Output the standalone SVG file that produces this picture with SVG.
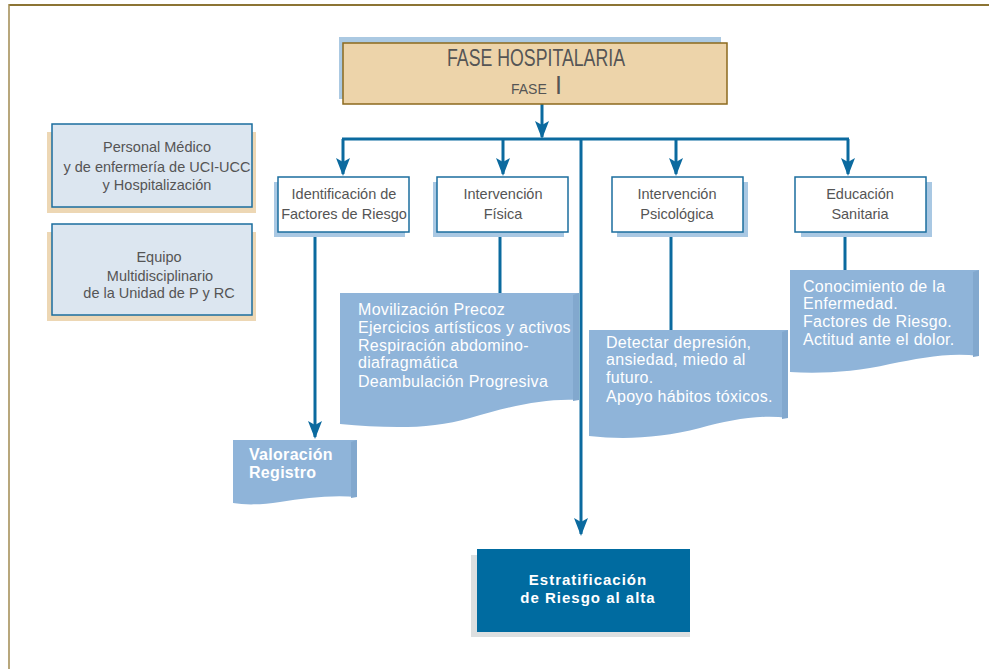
<svg xmlns="http://www.w3.org/2000/svg" width="989" height="669" viewBox="0 0 989 669">
<style>
.cond{font-family:"Liberation Sans",Arial,sans-serif;fill:#555;text-anchor:middle;font-size:14.5px}
.panel{fill:#8FB4D9}
.pedge{fill:#82A8CE}
.ptxt{font-family:"Liberation Sans",Arial,sans-serif;font-size:16px;fill:#fff;letter-spacing:0.3px}
.box{fill:#fff;stroke:#1B6E9E;stroke-width:1.5}
.sh{fill:#A9C8E3}
.lbox{fill:#DCE6F0;stroke:#1B6E9E;stroke-width:1.5}
.lsh{fill:#EDD7B4}
.conn{stroke:#0B6A9F;stroke-width:3;fill:none}
</style>
<defs>
<marker id="ah" markerUnits="userSpaceOnUse" markerWidth="18" markerHeight="14" refX="16" refY="7" orient="auto" viewBox="0 0 18 14">
<path d="M0,0 L18,7 L0,14 L4,7 Z" fill="#0B6A9F"/>
</marker>
</defs>
<rect width="989" height="669" fill="#fff"/>
<g id="frame">
<line x1="9" y1="5" x2="989" y2="5" stroke="#8C7434" stroke-width="2"/>
<line x1="9" y1="4" x2="9" y2="669" stroke="#A08A50" stroke-width="1.5"/>
</g>
<g id="connectors">
<line class="conn" x1="542" y1="104" x2="542" y2="137" marker-end="url(#ah)"/>
<line class="conn" x1="342" y1="139" x2="849" y2="139"/>
<line class="conn" x1="343" y1="139" x2="343" y2="174" marker-end="url(#ah)"/>
<line class="conn" x1="503" y1="139" x2="503" y2="174" marker-end="url(#ah)"/>
<line class="conn" x1="676" y1="139" x2="676" y2="174" marker-end="url(#ah)"/>
<line class="conn" x1="848" y1="139" x2="848" y2="174" marker-end="url(#ah)"/>
<line class="conn" x1="581" y1="139" x2="581" y2="534" marker-end="url(#ah)"/>
<line class="conn" x1="315" y1="232" x2="315" y2="437" marker-end="url(#ah)"/>
<line class="conn" x1="500" y1="232" x2="500" y2="294"/>
<line class="conn" x1="671" y1="232" x2="671" y2="331"/>
<line class="conn" x1="845" y1="232" x2="845" y2="271"/>
</g>
<g id="fase">
<rect x="339" y="37" width="382" height="62" fill="#ABC9E2"/>
<rect x="343" y="43" width="384" height="61" fill="#EDD4AA" stroke="#8C6A1E" stroke-width="1.5"/>
<text class="cond" x="536" y="66" style="font-size:24px" textLength="178" lengthAdjust="spacingAndGlyphs">FASE HOSPITALARIA</text>
<text class="cond" x="511" y="94" style="font-size:14px;text-anchor:start">FASE</text>
<text class="cond" x="555" y="94" style="font-size:25px;text-anchor:start">I</text>
</g>
<g id="personal">
<rect class="lsh" x="47" y="132" width="209" height="81"/>
<rect class="lbox" x="52" y="124" width="200" height="83"/>
<text class="cond" x="157" y="152">Personal Médico</text>
<text class="cond" x="157" y="172">y de enfermería de UCI-UCC</text>
<text class="cond" x="157" y="190">y Hospitalización</text>
</g>
<g id="equipo">
<rect class="lsh" x="47" y="232" width="209" height="89"/>
<rect class="lbox" x="52" y="224" width="200" height="91"/>
<text class="cond" x="159" y="262">Equipo</text>
<text class="cond" x="160" y="281">Multidisciplinario</text>
<text class="cond" x="159" y="298">de la Unidad de P y RC</text>
</g>
<g id="identificacion">
<rect class="sh" x="274" y="182" width="131" height="55"/>
<rect class="box" x="278" y="177" width="131" height="55"/>
<text class="cond" x="344" y="199">Identificación de</text>
<text class="cond" x="344" y="219">Factores de Riesgo</text>
</g>
<g id="fisica">
<rect class="sh" x="433" y="182" width="131" height="55"/>
<rect class="box" x="437" y="177" width="131" height="55"/>
<text class="cond" x="503" y="199">Intervención</text>
<text class="cond" x="503" y="219">Física</text>
</g>
<g id="psicologica">
<rect class="sh" x="617" y="182" width="131" height="55"/>
<rect class="box" x="612" y="177" width="131" height="55"/>
<text class="cond" x="677" y="199">Intervención</text>
<text class="cond" x="677" y="219">Psicológica</text>
</g>
<g id="educacion">
<rect class="sh" x="801" y="182" width="131" height="55"/>
<rect class="box" x="795" y="177" width="131" height="55"/>
<text class="cond" x="860" y="199">Educación</text>
<text class="cond" x="860" y="219">Sanitaria</text>
</g>
<g id="movilizacion">
<path class="panel" d="M340,293 L579,293 L579,400 C545,398 510,406 470,418 C430,430 385,428 340,424 Z"/>
<path class="pedge" d="M573,295 L579,293 L579,400 L573,401 Z"/>
<text class="ptxt" x="358" y="315">Movilización Precoz</text>
<text class="ptxt" x="358" y="333">Ejercicios artísticos y activos</text>
<text class="ptxt" x="358" y="351">Respiración abdomino-</text>
<text class="ptxt" x="358" y="368">diafragmática</text>
<text class="ptxt" x="358" y="387">Deambulación Progresiva</text>
</g>
<g id="detectar">
<path class="panel" d="M589,330 L788,330 L788,418 C760,414 730,420 700,428 C660,438 625,440 589,436 Z"/>
<path class="pedge" d="M782,332 L788,330 L788,418 L782,419 Z"/>
<text class="ptxt" x="606" y="348">Detectar depresión,</text>
<text class="ptxt" x="606" y="365">ansiedad, miedo al</text>
<text class="ptxt" x="606" y="383">futuro.</text>
<text class="ptxt" x="606" y="402">Apoyo hábitos tóxicos.</text>
</g>
<g id="conocimiento">
<path class="panel" d="M790,270 L979,270 L979,356 C950,352 920,358 890,364 C855,372 820,374 790,372 Z"/>
<path class="pedge" d="M973,272 L979,270 L979,356 L973,357 Z"/>
<text class="ptxt" x="803" y="292">Conocimiento de la</text>
<text class="ptxt" x="803" y="309">Enfermedad.</text>
<text class="ptxt" x="803" y="327">Factores de Riesgo.</text>
<text class="ptxt" x="803" y="345">Actitud ante el dolor.</text>
</g>
<g id="valoracion">
<path class="panel" d="M233,440 L357,440 L357,497 C330,495 305,498 280,502 C260,505 245,505 233,503 Z"/>
<path class="pedge" d="M351,442 L357,440 L357,497 L351,498 Z"/>
<text class="ptxt" x="249" y="460" font-weight="bold">Valoración</text>
<text class="ptxt" x="249" y="478" font-weight="bold">Registro</text>
</g>
<g id="estratificacion">
<rect x="471" y="555" width="219" height="82" fill="#DCDFE0"/>
<rect x="477" y="549" width="213" height="83" fill="#006BA0"/>
<text x="588" y="585" font-family="Liberation Sans, Arial, sans-serif" font-size="15" font-weight="bold" fill="#fff" text-anchor="middle" letter-spacing="1">Estratificación</text>
<text x="588" y="603" font-family="Liberation Sans, Arial, sans-serif" font-size="15" font-weight="bold" fill="#fff" text-anchor="middle" letter-spacing="1">de Riesgo al alta</text>
</g>
</svg>
